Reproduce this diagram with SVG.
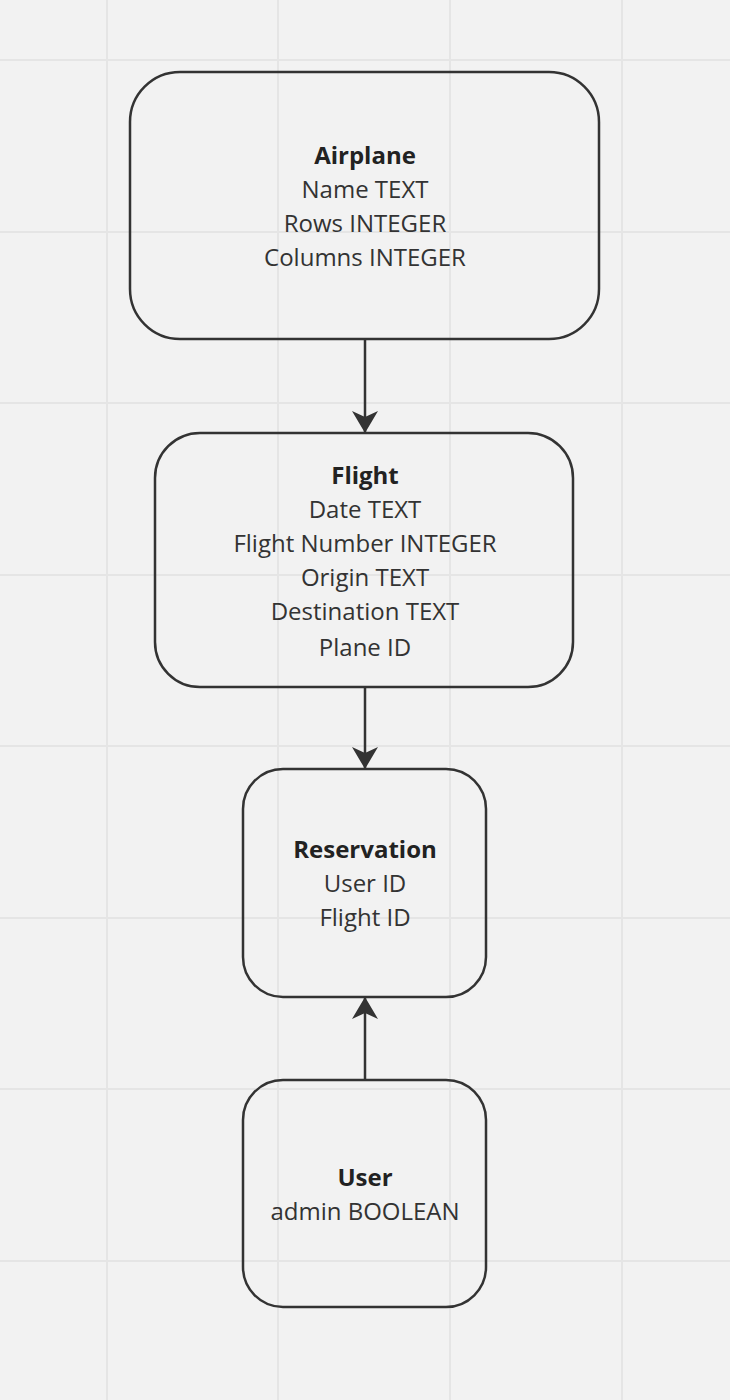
<svg xmlns="http://www.w3.org/2000/svg" width="730" height="1400" viewBox="0 0 730 1400">
<defs>
<style>
.grid line{stroke:#e5e5e5;stroke-width:2}
.box{fill:none;stroke:#333;stroke-width:2.5}
.t{font-family:"Open Sans","Noto Sans",sans-serif;font-size:24px;fill:#333;text-anchor:middle}
.b{font-weight:bold;fill:#222}
.edge{stroke:#333;stroke-width:2.5;fill:none}
</style>
<marker id="arr" viewBox="0 0 22 26" refX="21" refY="13" markerWidth="22" markerHeight="26" markerUnits="userSpaceOnUse" orient="auto">
<path d="M0,0 L22,13 L0,26 L6,13 Z" fill="#333"/>
</marker>
</defs>
<rect width="730" height="1400" fill="#f2f2f2"/>
<g class="grid">
<line x1="107" y1="0" x2="107" y2="1400"/>
<line x1="278" y1="0" x2="278" y2="1400"/>
<line x1="450" y1="0" x2="450" y2="1400"/>
<line x1="622" y1="0" x2="622" y2="1400"/>
<line x1="0" y1="60" x2="730" y2="60"/>
<line x1="0" y1="232" x2="730" y2="232"/>
<line x1="0" y1="403" x2="730" y2="403"/>
<line x1="0" y1="575" x2="730" y2="575"/>
<line x1="0" y1="746" x2="730" y2="746"/>
<line x1="0" y1="918" x2="730" y2="918"/>
<line x1="0" y1="1089" x2="730" y2="1089"/>
<line x1="0" y1="1261" x2="730" y2="1261"/>
</g>
<g id="connectors">
<line class="edge" x1="365" y1="340" x2="365" y2="432" marker-end="url(#arr)"/>
<line class="edge" x1="365" y1="688" x2="365" y2="768" marker-end="url(#arr)"/>
<line class="edge" x1="365" y1="1079" x2="365" y2="998" marker-end="url(#arr)"/>
</g>
<g id="airplane">
<rect class="box" x="130" y="72" width="469" height="267" rx="50" ry="50"/>
<text class="t b" x="365" y="164">Airplane</text>
<text class="t" x="365" y="198">Name TEXT</text>
<text class="t" x="365" y="232">Rows INTEGER</text>
<text class="t" x="365" y="266">Columns INTEGER</text>
</g>
<g id="flight">
<rect class="box" x="155" y="433" width="418" height="254" rx="45" ry="45"/>
<text class="t b" x="365" y="484">Flight</text>
<text class="t" x="365" y="518">Date TEXT</text>
<text class="t" x="365" y="552">Flight Number INTEGER</text>
<text class="t" x="365" y="586">Origin TEXT</text>
<text class="t" x="365" y="620">Destination TEXT</text>
<text class="t" x="365" y="656">Plane ID</text>
</g>
<g id="reservation">
<rect class="box" x="243" y="769" width="243" height="228" rx="40" ry="40"/>
<text class="t b" x="365" y="858">Reservation</text>
<text class="t" x="365" y="892">User ID</text>
<text class="t" x="365" y="926">Flight ID</text>
</g>
<g id="user">
<rect class="box" x="243" y="1080" width="243" height="227" rx="40" ry="40"/>
<text class="t b" x="365" y="1186">User</text>
<text class="t" x="365" y="1220">admin BOOLEAN</text>
</g>
</svg>
